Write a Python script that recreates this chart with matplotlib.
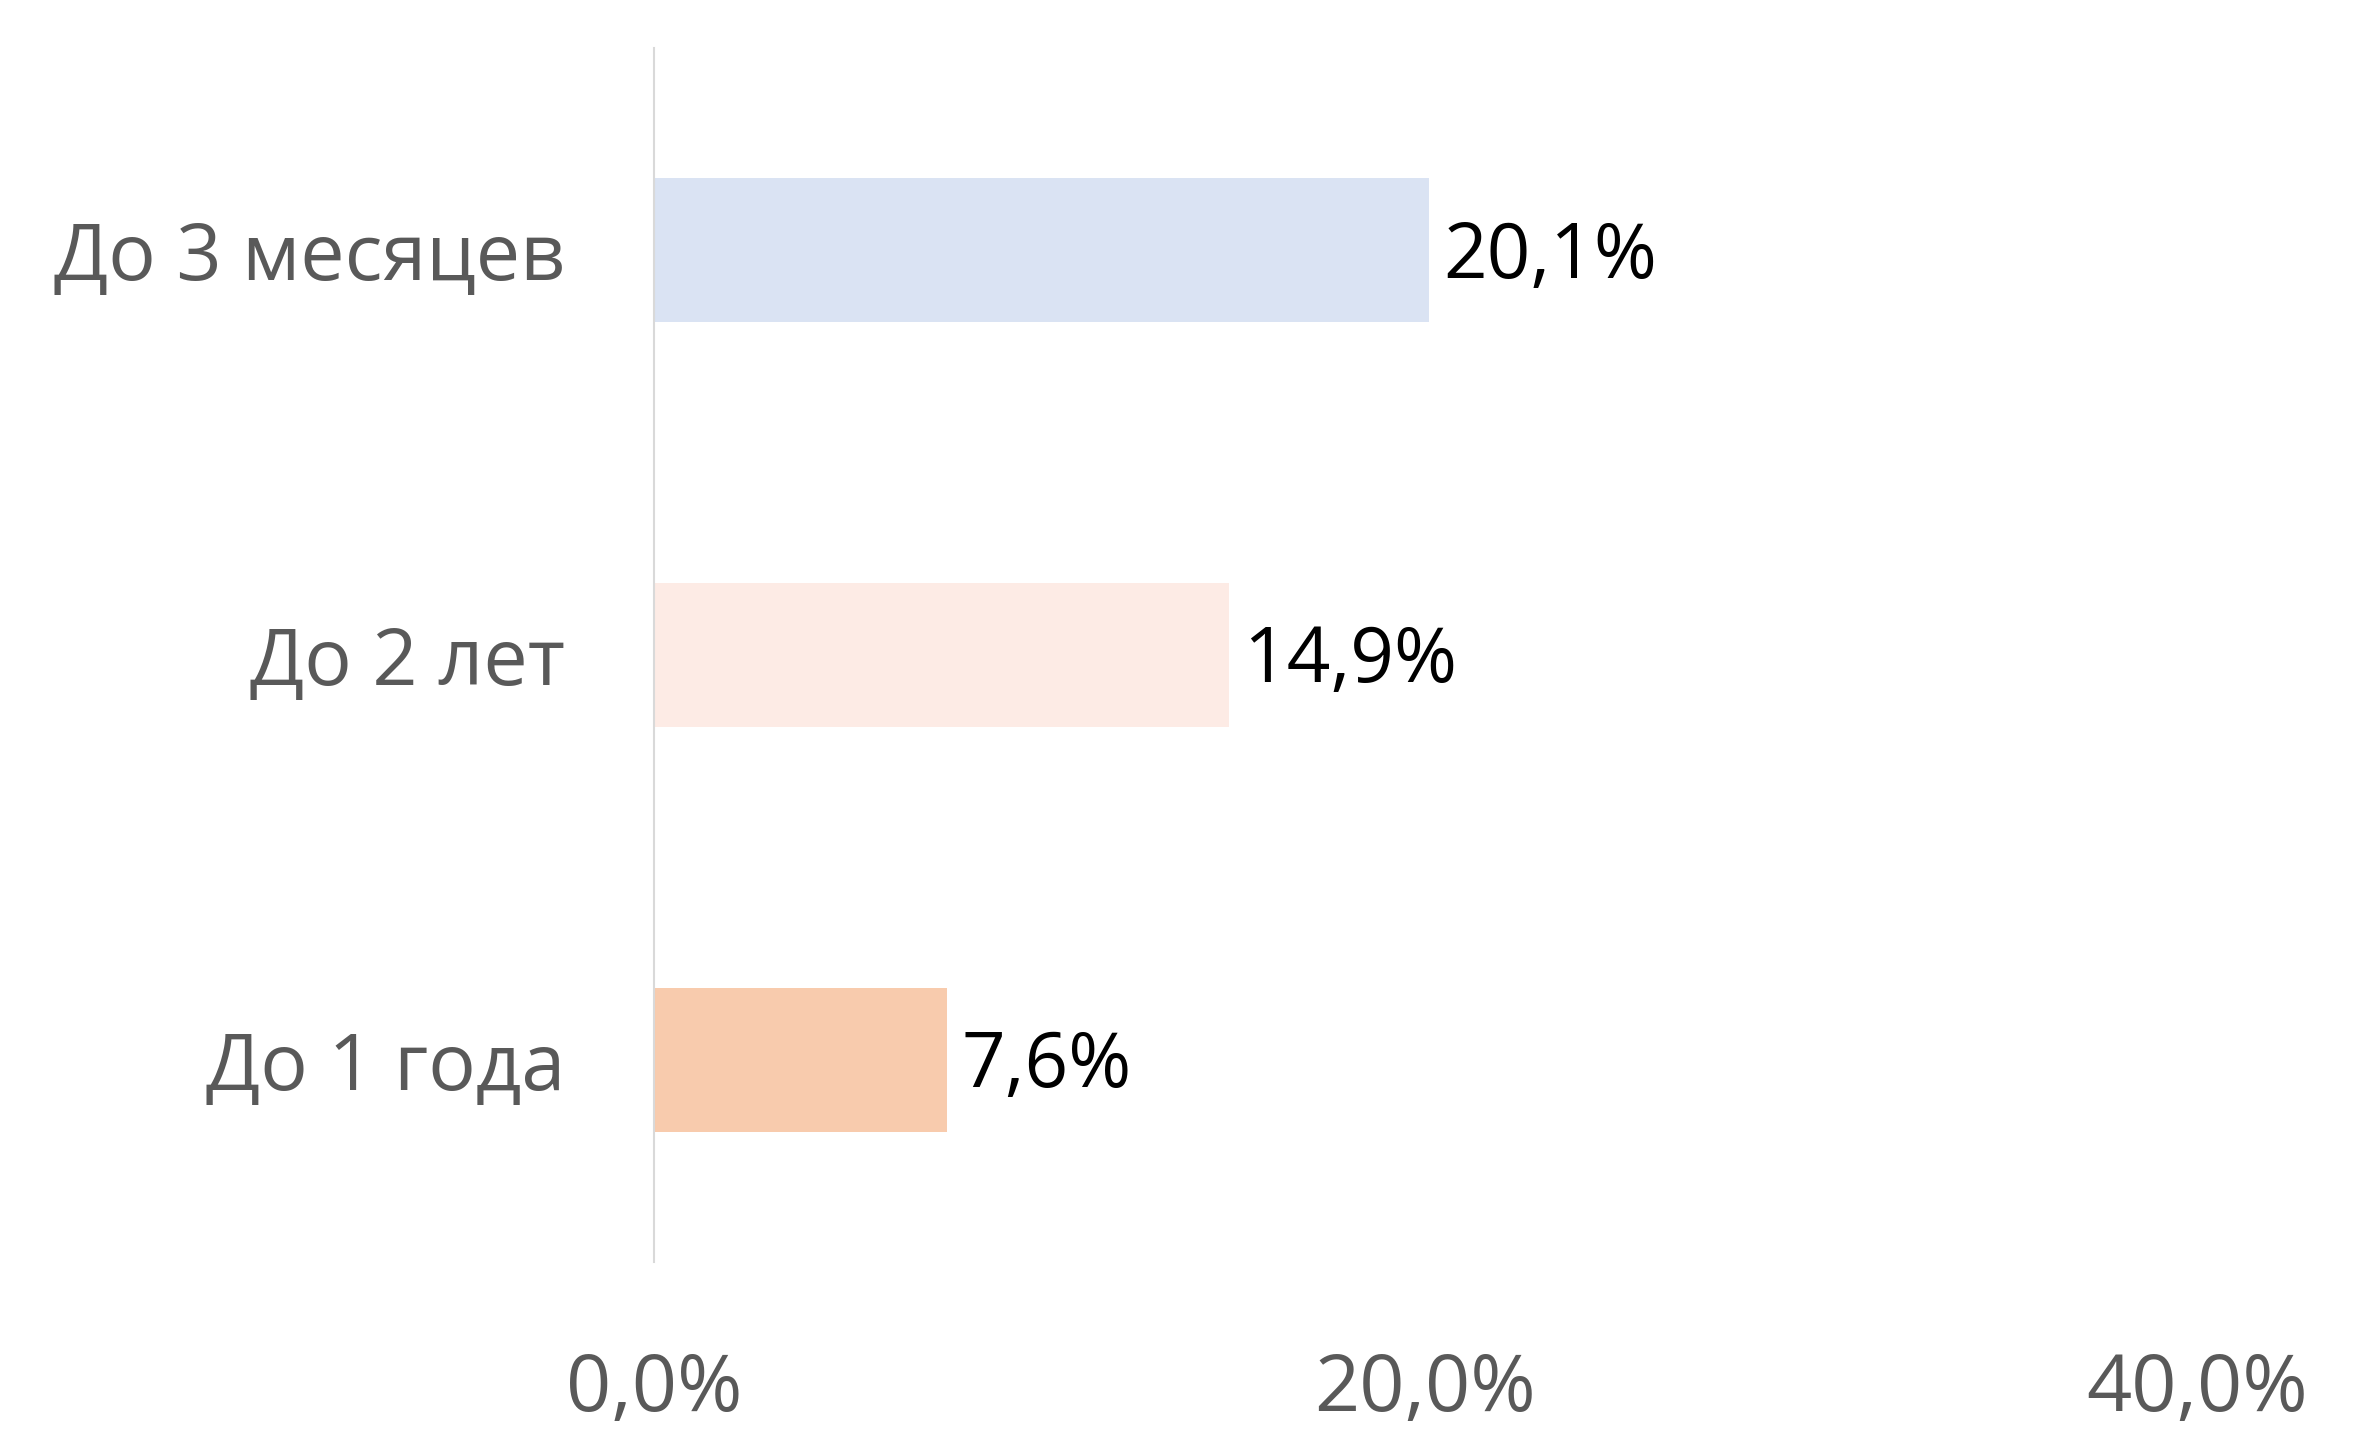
import matplotlib
matplotlib.use("Agg")
import matplotlib.pyplot as plt
from matplotlib.ticker import FuncFormatter

categories = ["До 3 месяцев", "До 2 лет", "До 1 года"]
values = [20.1, 14.9, 7.6]
colors = ["#DAE3F3", "#FDEBE5", "#F8CBAD"]
xticks = [0, 20, 40]

plt.rcParams['font.family'] = ['Open Sans', 'DejaVu Sans']

fig = plt.figure(figsize=(23.75, 14.32), dpi=100)
ax = fig.add_axes([0.2754, 0.1187, 0.925 - 0.2754, 0.9665 - 0.1187])

ypos = list(range(len(categories)))
bars = ax.barh(ypos, values, height=0.356, color=colors)
ax.set_ylim(len(categories) - 0.5, -0.5)
ax.set_xlim(0, 40)
ax.set_yticks(ypos)
ax.set_yticklabels(categories)
ax.set_xticks(xticks)
ax.xaxis.set_major_formatter(FuncFormatter(lambda v, p: f"{v:.1f}%".replace('.', ',')))

for v, y in zip(values, ypos):
    ax.annotate(f"{v:.1f}%".replace('.', ','), xy=(v, y), xytext=(10, -5),
                textcoords='offset points', va='center', ha='left',
                fontsize=55, color='black')

for s in ['top', 'right', 'bottom']:
    ax.spines[s].set_visible(False)
ax.spines['left'].set_color('#D9D9D9')
ax.spines['left'].set_linewidth(1.5)
ax.tick_params(axis='both', length=0, labelsize=57, colors='#595959')
ax.tick_params(axis='y', pad=64)
ax.tick_params(axis='x', pad=64)

fig.savefig("out.png", dpi=100, facecolor='white')
